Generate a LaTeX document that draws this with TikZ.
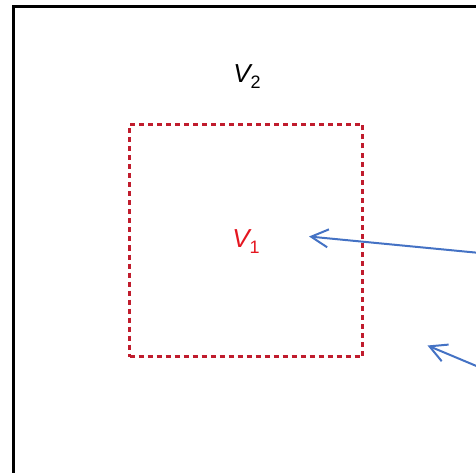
\documentclass[tikz,border=0pt]{standalone}
\usepackage{fontspec}
\setmainfont{Liberation Sans}
\usepackage{xcolor}
\usetikzlibrary{positioning, arrows.meta}
\definecolor{boxred}{RGB}{192,28,45}
\definecolor{labred}{RGB}{228,22,32}
\definecolor{arrblue}{RGB}{68,114,196}

\begin{document}
\begin{tikzpicture}[
    x=1pt, y=-1pt,
    font=\fontsize{26}{26}\selectfont,
    frame/.style={draw=black, line width=2.8pt},
    region/.style={draw=boxred, line width=3pt, dash pattern=on 5pt off 4pt,
                   minimum width=233pt, minimum height=232pt, inner sep=0pt},
    lab/.style={inner sep=1pt},
    arr/.style={-{Straight Barb[length=17pt, width=18pt]}, arrblue, line width=2pt},
]
\useasboundingbox (0,0) rectangle (476,473);

% ── Outer frame ──────────────────────────────────────────────
\draw[frame] (480,6.5) -- (13.5,6.5) -- (13.5,480);

% ── Inner region and labels ─────────────────────────────────
\node[region] (box) at (246,240.5) {};
\node[lab] (V2) at (247,77) {\itshape V\upshape\raisebox{-6pt}{\fontsize{18}{18}\selectfont 2}};
\node[lab, labred] (V1) at (246,242) {\itshape V\upshape\raisebox{-6pt}{\fontsize{18}{18}\selectfont 1}};

% ── Pointers from the right ─────────────────────────────────
\coordinate (tipA) at (309,236.5);
\coordinate (tipB) at (427.5,345.5);
\coordinate (srcA) at (480,253);
\coordinate (srcB) at (480,367.5);
\draw[arr] (srcA) -- (tipA);
\draw[arr] (srcB) -- (tipB);

\end{tikzpicture}
\end{document}
